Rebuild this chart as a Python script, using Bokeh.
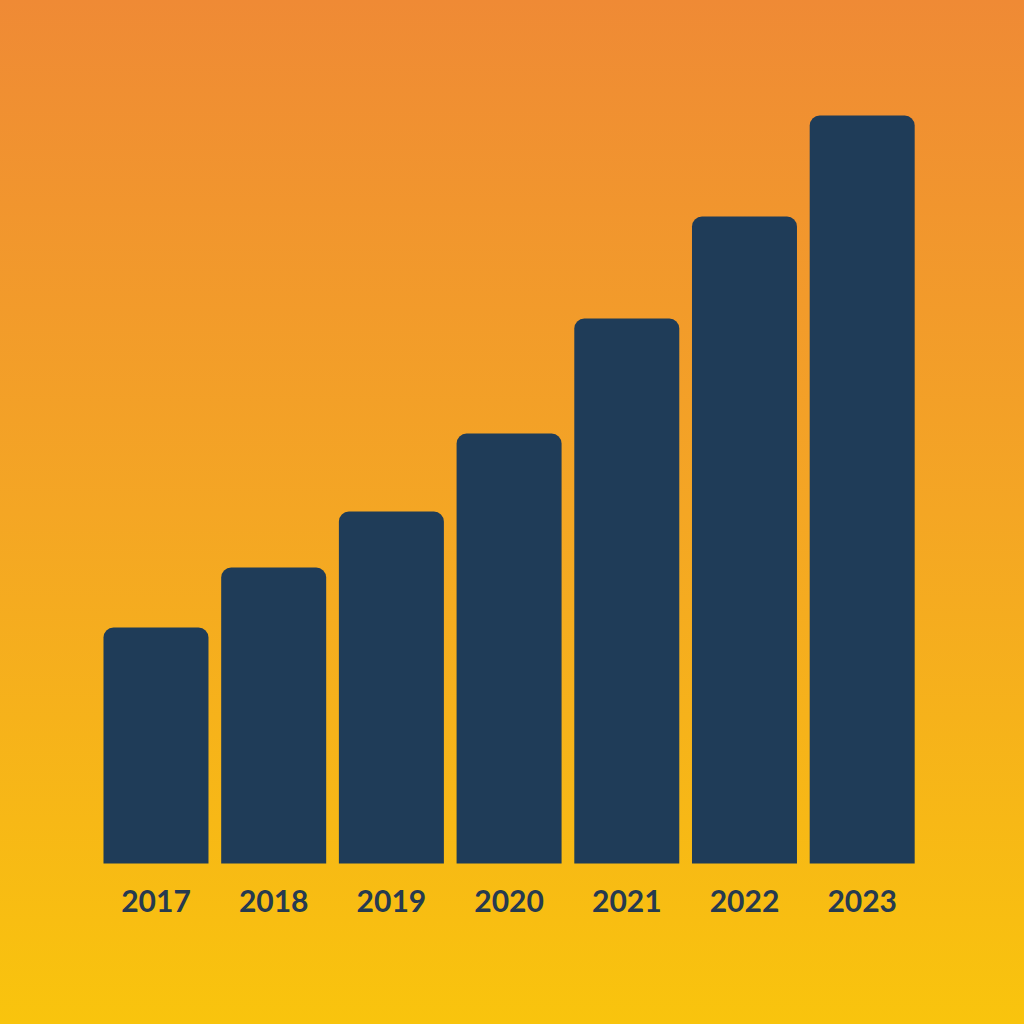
from bokeh.plotting import figure
from bokeh.models import ColumnDataSource, Range1d
from bokeh.core.properties import value
from bokeh.embed import file_html
from bokeh.resources import INLINE

years = ["2017", "2018", "2019", "2020", "2021", "2022", "2023"]
values = [236, 296, 352, 430, 545, 647, 748]

idx = list(range(len(years)))
src = ColumnDataSource(dict(x=idx, top=values, label=years, ly=[-37] * len(years)))

W = H = 1024
p = figure(width=W, height=H, output_backend="svg", toolbar_location=None,
           x_range=Range1d(-1.321, 7.379), y_range=Range1d(-161, 863),
           min_border=0, min_border_left=0, min_border_right=0,
           min_border_top=0, min_border_bottom=0)
p.axis.visible = False
p.grid.visible = False
p.outline_line_color = None
p.background_fill_alpha = 0
p.border_fill_alpha = 0
p.styles = {"background": "linear-gradient(to bottom, #EF8A35 0%, #F4A624 50%, #F9C40D 100%)"}

p.vbar(x="x", top="top", bottom=0, width=0.892, source=src,
       fill_color="#1F3C58", line_color=None, border_radius=(10, 10, 0, 0))

p.text(x="x", y="ly", text="label", source=src, text_align="center",
       text_baseline="middle", text_font=value("Lato"), text_font_style="bold",
       text_font_size="30px", text_color="#263A50")

open("out.html", "w").write(file_html(p, INLINE))
